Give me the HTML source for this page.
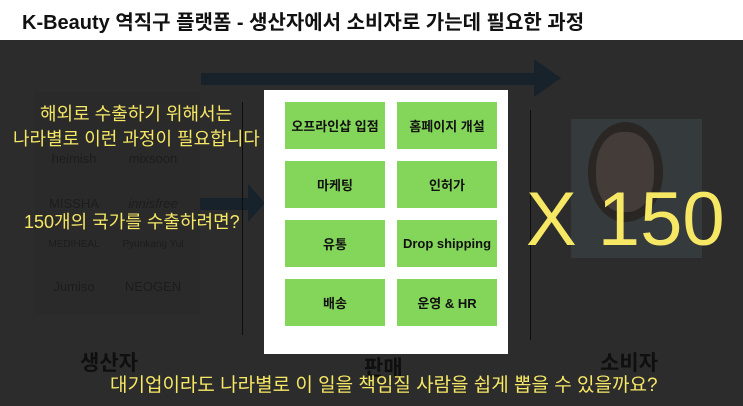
<!DOCTYPE html>
<html><head><meta charset="utf-8"><style>
body{margin:0;width:743px;height:406px;overflow:hidden;background:#fff;font-family:"Liberation Sans","Noto Sans CJK KR",sans-serif;position:relative}
.a{position:absolute}
.dark{left:0;top:40px;width:743px;height:366px;background:#2c2c2c}
.y{color:#f6e765;white-space:nowrap}
.g{position:absolute;background:#84d65a;width:100px;height:47px;display:flex;align-items:center;justify-content:center;font-size:13px;font-weight:bold;color:#111}
.logo{position:absolute;background:#2a2a2a;width:72px;height:36px;border-radius:4px;color:#1c1c1c;font-size:13px;display:flex;align-items:center;justify-content:center}
</style></head><body>
<div class="a" style="left:22px;top:6px;font-size:20px;font-weight:bold;color:#111;white-space:nowrap">K-Beauty 역직구 플랫폼 - 생산자에서 소비자로 가는데 필요한 과정</div>
<div class="a dark"></div>
<div class="a" style="left:201px;top:73px;width:335px;height:12px;background:#17222b"></div>
<div class="a" style="left:534px;top:59px;width:0;height:0;border-top:19px solid transparent;border-bottom:19px solid transparent;border-left:27px solid #17222b"></div>
<div class="a" style="left:194px;top:198px;width:60px;height:12px;background:#17222b"></div>
<div class="a" style="left:248px;top:184px;width:0;height:0;border-top:19px solid transparent;border-bottom:19px solid transparent;border-left:17px solid #17222b"></div>
<div class="a" style="left:34px;top:92px;width:166px;height:223px;background:#2a2a2a"></div>
<div class="logo" style="left:38px;top:98px"></div><div class="logo" style="left:117px;top:98px"></div>
<div class="logo" style="left:38px;top:140px">heimish</div><div class="logo" style="left:117px;top:140px">mixsoon</div>
<div class="logo" style="left:38px;top:185px">MISSHA</div><div class="logo" style="left:117px;top:185px;font-style:italic">innisfree</div>
<div class="logo" style="left:38px;top:226px;font-size:10px">MEDIHEAL</div><div class="logo" style="left:117px;top:226px;font-size:10px">Pyunkang Yul</div>
<div class="logo" style="left:38px;top:268px">Jumiso</div><div class="logo" style="left:117px;top:268px">NEOGEN</div>
<div class="a" style="left:242px;top:102px;width:1px;height:233px;background:#0d0d0d"></div>
<div class="a" style="left:530px;top:110px;width:1px;height:230px;background:#0d0d0d"></div>
<div class="a" style="left:571px;top:119px;width:131px;height:139px;background:#353a3d"></div>
<div class="a" style="left:588px;top:122px;width:75px;height:100px;border-radius:50%;background:#2a2624"></div>
<div class="a" style="left:596px;top:132px;width:58px;height:80px;border-radius:45%;background:#433c38"></div>
<div class="a y" style="left:40px;top:100px;font-size:18px">해외로 수출하기 위해서는</div>
<div class="a y" style="left:13px;top:125px;font-size:18px">나라별로 이런 과정이 필요합니다</div>
<div class="a y" style="left:24px;top:208px;font-size:18px">150개의 국가를 수출하려면?</div>
<div class="a y" style="left:526px;top:177px;font-size:76px;line-height:86px">X 150</div>
<div class="a" style="left:264px;top:90px;width:244px;height:264px;background:#fff"></div>
<div class="g" style="left:285px;top:102px">오프라인샵 입점</div>
<div class="g" style="left:397px;top:102px">홈페이지 개설</div>
<div class="g" style="left:285px;top:161px">마케팅</div>
<div class="g" style="left:397px;top:161px">인허가</div>
<div class="g" style="left:285px;top:220px">유통</div>
<div class="g" style="left:397px;top:220px">Drop shipping</div>
<div class="g" style="left:285px;top:279px">배송</div>
<div class="g" style="left:397px;top:279px">운영 &amp; HR</div>
<div class="a" style="left:80px;top:347px;font-size:21px;font-weight:bold;color:#0f0f0f">생산자</div>
<div class="a" style="left:364px;top:352px;font-size:21px;font-weight:bold;color:#0f0f0f">판매</div>
<div class="a" style="left:600px;top:347px;font-size:21px;font-weight:bold;color:#0f0f0f">소비자</div>
<div class="a y" style="left:110px;top:370px;font-size:19px">대기업이라도 나라별로 이 일을 책임질 사람을 쉽게 뽑을 수 있을까요?</div>
</body></html>
